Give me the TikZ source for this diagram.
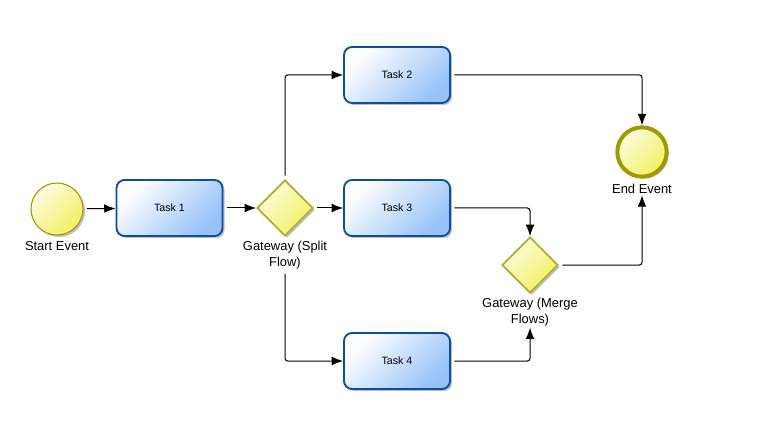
\documentclass[tikz,border=0pt]{standalone}
\usepackage{fontspec}
\setmainfont{Liberation Sans}
\usetikzlibrary{arrows.meta,shapes.geometric,shadows}
\definecolor{taskborder}{HTML}{0B4EA2}
\definecolor{taskfill}{HTML}{96C2F8}
\definecolor{evborder}{HTML}{A09A00}
\definecolor{evfill}{HTML}{F2F060}
\definecolor{gwborder}{HTML}{B0AC30}
\begin{document}
\begin{tikzpicture}[x=0.75pt,y=-0.75pt,
  shadowed/.style={drop shadow={shadow xshift=1.5pt,shadow yshift=-1.5pt,opacity=0.25,fill=black}},
  task/.style={shadowed,draw=taskborder,line width=1.4pt,rounded corners=6pt,
    minimum width=79.5pt,minimum height=42pt,inner sep=0pt,
    top color=white,bottom color=taskfill,shading angle=45,
    font=\fontsize{8}{9.6}\selectfont},
  startev/.style={shadowed,circle,draw=evborder,line width=0.8pt,minimum size=39pt,inner sep=0pt,
    top color=white!80!evfill,bottom color=evfill,shading angle=45},
  endev/.style={shadowed,circle,draw=evborder,line width=3pt,minimum size=37pt,inner sep=0pt,
    top color=white!80!evfill,bottom color=evfill,shading angle=45},
  gateway/.style={shadowed,diamond,draw=gwborder,line width=1.4pt,minimum width=42pt,minimum height=42pt,inner sep=0pt,
    top color=white!80!evfill,bottom color=evfill,shading angle=45},
  lbl/.style={align=center,inner sep=1pt,font=\fontsize{9.7}{12}\selectfont},
  flow/.style={draw=black,line width=0.75pt,rounded corners=2pt,shorten <=2.5pt,
    -{Latex[length=8.5pt,width=6.5pt]}}]
\useasboundingbox (0,0) rectangle (782,424);

\node[startev] (start) at (57,209) {};
\node[lbl] (startlbl) at (57,246) {Start Event};
\node[task] (task1) at (169.5,208) {Task 1};
\node[gateway] (gw1) at (285,208) {};
\node[lbl] (gw1lbl) at (285,255) {Gateway (Split\\Flow)};
\node[task] (task2) at (397,75) {Task 2};
\node[task] (task3) at (397,208) {Task 3};
\node[task] (task4) at (397,361) {Task 4};
\node[gateway] (gw2) at (530,265) {};
\node[lbl] (gw2lbl) at (530,312) {Gateway (Merge\\Flows)};
\node[endev] (end) at (642,152) {};
\node[lbl] (endlbl) at (642,189) {End Event};

\draw[flow] (start) -- (task1);
\draw[flow] (task1) -- (gw1);
\draw[flow] (gw1) -- (task3);
\draw[flow] (gw1.north) |- (task2.west);
\draw[flow] (gw1lbl.south) |- (task4.west);
\draw[flow] (task2.east) -| (end.north);
\draw[flow] (task3.east) -| (gw2.north);
\draw[flow] (task4.east) -| (gw2lbl.south);
\draw[flow] (gw2.east) -| (endlbl.south);
\end{tikzpicture}
\end{document}
